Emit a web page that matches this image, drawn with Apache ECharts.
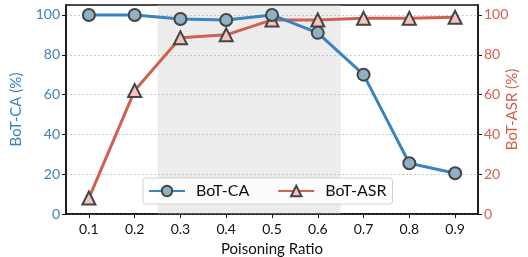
<!DOCTYPE html>
<html><head><meta charset="utf-8">
<script src="https://cdn.jsdelivr.net/npm/echarts@6/dist/echarts.min.js"></script>
<style>html,body{margin:0;padding:0;background:#fff}#c{width:528px;height:257px}</style>
</head><body><div id="c"></div>
<script>
const ratios = [0.1,0.2,0.3,0.4,0.5,0.6,0.7,0.8,0.9];
const botCA = [100,100,98,97.5,100,91,70,25.5,20.5];
const botASR = [8,62,88.5,90,97.5,97.5,98.3,98.3,98.8];
const yTicks = [0,20,40,60,80,100];
const shade = [0.25,0.65];
const FONT = 'Lato';
const BLUE = '#3a83c1', RED = '#d0604f';
const chart = echarts.init(document.getElementById('c'), null, {renderer:'canvas'});
chart.setOption({
  animation:false,
  textStyle:{fontFamily:FONT},
  grid:{left:66,right:50,top:5,bottom:43,outerBoundsMode:'none',containLabel:false,show:true,borderColor:'#111',borderWidth:1.5,backgroundColor:'transparent'},
  xAxis:{type:'value',min:0.05,max:0.95,name:'Poisoning Ratio',nameLocation:'middle',nameGap:28,
    nameTextStyle:{fontSize:15,color:'#111',fontFamily:FONT},
    axisLine:{lineStyle:{color:'#111',width:1.5}},
    axisTick:{show:true,length:4,lineStyle:{color:'#111'},customValues:ratios},
    axisLabel:{fontSize:14,color:'#111',customValues:ratios,formatter:v=>v.toFixed(1),margin:8},
    splitLine:{show:false}},
  yAxis:[
    {type:'value',min:0,max:105,name:'BoT-CA (%)',nameLocation:'middle',nameGap:42,nameMoveOverlap:false,
     nameTextStyle:{fontSize:15,color:BLUE},
     axisLine:{show:true,lineStyle:{color:'#111',width:1.5}},
     axisTick:{show:true,length:4,lineStyle:{color:'#111'},customValues:yTicks},
     axisLabel:{fontSize:14,color:BLUE,customValues:yTicks,margin:6},
     splitLine:{show:true,lineStyle:{color:'#c8c8c8',type:[2,2],width:1}}},
    {type:'value',min:0,max:105,name:'BoT-ASR (%)',nameLocation:'middle',nameGap:34,nameRotate:90,nameMoveOverlap:false,
     nameTextStyle:{fontSize:15,color:RED,align:'center',verticalAlign:'middle'},
     axisLine:{show:true,lineStyle:{color:'#111',width:1.5}},
     axisTick:{show:true,length:4,lineStyle:{color:'#111'},customValues:yTicks},
     axisLabel:{fontSize:14,color:RED,customValues:yTicks,margin:6},
     splitLine:{show:false}}
  ],
  legend:{left:143,top:178,padding:[5,6,5,5],itemGap:28,itemWidth:36,itemHeight:13,
    backgroundColor:'rgba(255,255,255,0.85)',borderColor:'#d0d0d0',borderWidth:1,borderRadius:3,
    textStyle:{fontSize:16,color:'#111',fontFamily:FONT,padding:[0,0,0,6]},
    data:['BoT-CA','BoT-ASR']},
  series:[
    {name:'BoT-CA',type:'line',yAxisIndex:0,data:ratios.map((r,i)=>[r,botCA[i]]),
     lineStyle:{color:BLUE,width:3},symbol:'circle',symbolSize:12,z:3,
     itemStyle:{color:'#8fb2c2',borderColor:'#444',borderWidth:2},
     markArea:{silent:true,itemStyle:{color:'rgba(200,200,200,0.35)'},data:[[{xAxis:shade[0]},{xAxis:shade[1]}]]}},
    {name:'BoT-ASR',type:'line',yAxisIndex:1,data:ratios.map((r,i)=>[r,botASR[i]]),
     lineStyle:{color:RED,width:3},symbol:'triangle',symbolSize:13,z:2,
     itemStyle:{color:'#f4c4c1',borderColor:'#444',borderWidth:2}}
  ]
});
</script></body></html>
